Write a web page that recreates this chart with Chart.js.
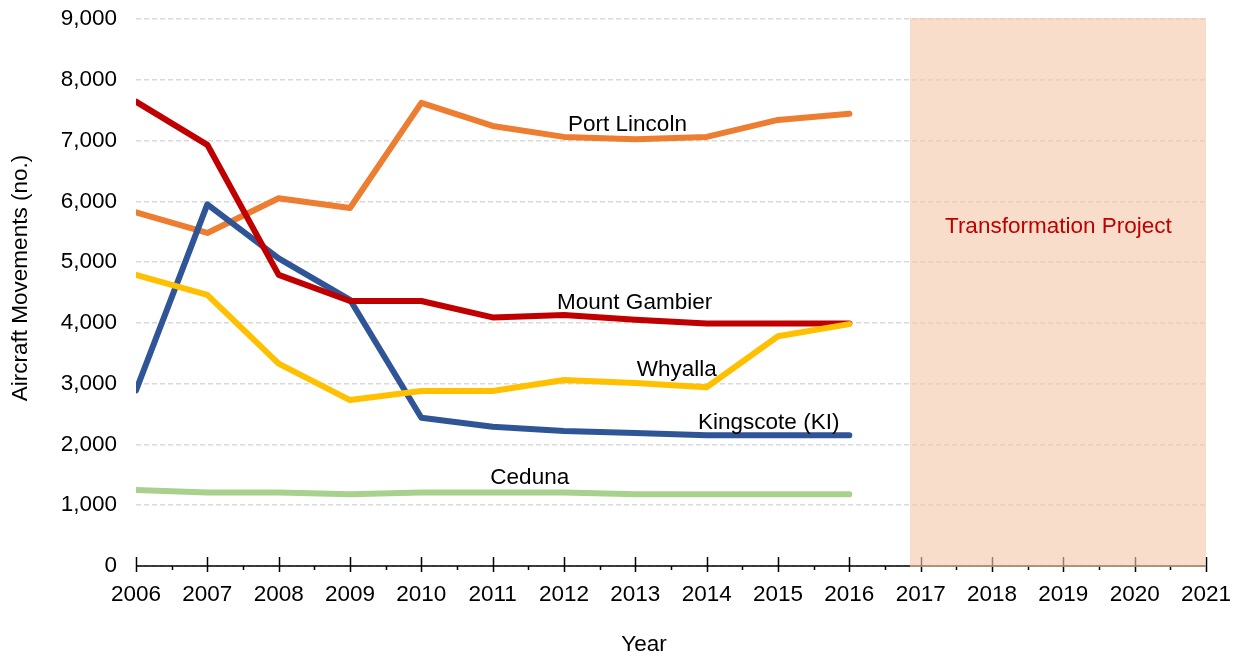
<!DOCTYPE html>
<html>
<head>
<meta charset="utf-8">
<script src="https://cdn.jsdelivr.net/npm/chart.js@4/dist/chart.umd.min.js"></script>
<style>
    html, body { margin: 0; padding: 0; background: #fff; }
    #wrap { width: 1242px; height: 661px; }
</style>
</head>
<body>
<div id="wrap"><canvas id="movements-chart"></canvas></div>
<script>
// Aircraft movements (no.) by year
const years = [2006, 2007, 2008, 2009, 2010, 2011, 2012, 2013, 2014, 2015, 2016];
const portLincoln  = [5820, 5480, 6050, 5890, 7620, 7240, 7060, 7020, 7060, 7340, 7440];
const mountGambier = [7640, 6930, 4790, 4360, 4360, 4090, 4130, 4050, 3990, 3990, 3990];
const kingscote    = [2890, 5950, 5060, 4380, 2440, 2290, 2220, 2190, 2150, 2150, 2150];
const whyalla      = [4790, 4460, 3330, 2730, 2880, 2880, 3060, 3010, 2940, 3780, 3980];
const ceduna       = [1250, 1210, 1210, 1180, 1210, 1210, 1210, 1180, 1180, 1180, 1180];

const xMin = 2006, xMax = 2021;
const yMax = 9000, yStep = 1000;
const projectStart = 2016.85;   // shaded "Transformation Project" band
const projectEnd = 2021;

const FONT = "'Liberation Sans', Arial, sans-serif";

function points(values) {
    return years.map((y, i) => ({ x: y, y: values[i] }));
}

function series(label, values, color, order) {
    return {
        label,
        data: points(values),
        borderColor: color,
        backgroundColor: color,
        borderWidth: 6,
        pointRadius: 0,
        tension: 0,
        fill: false,
        borderCapStyle: "round",
        borderJoinStyle: "round",
        order,
    };
}

// text labels sitting next to each line (in data units)
const seriesLabels = [
    { text: "Port Lincoln",   x: 2012.89, y: 7256 },
    { text: "Mount Gambier",  x: 2012.99, y: 4327 },
    { text: "Whyalla",        x: 2013.58, y: 3225 },
    { text: "Kingscote (KI)", x: 2014.87, y: 2353 },
    { text: "Ceduna",         x: 2011.52, y: 1448 },
];

const decorations = {
    id: "decorations",
    afterDatasetsDraw(chart) {
        const { ctx, chartArea, scales } = chart;
        const xs = scales.x, ys = scales.y;
        const base = ys.getPixelForValue(0);
        ctx.save();

        // x axis line + tick marks
        ctx.strokeStyle = "#000";
        ctx.lineWidth = 1.5;
        ctx.beginPath();
        ctx.moveTo(chartArea.left, base);
        ctx.lineTo(chartArea.right, base);
        for (let v = xMin; v <= xMax; v++) {
            const px = Math.round(xs.getPixelForValue(v)) + 0.5;
            ctx.moveTo(px, base - 9);
            ctx.lineTo(px, base + 6);
            if (v < xMax) {
                const mx = Math.round(xs.getPixelForValue(v + 0.5)) + 0.5;
                ctx.moveTo(mx, base);
                ctx.lineTo(mx, base + 4);
            }
        }
        ctx.stroke();

        // projection band
        const bx0 = xs.getPixelForValue(projectStart);
        const bx1 = xs.getPixelForValue(projectEnd);
        const by0 = ys.getPixelForValue(yMax) - 1;
        ctx.fillStyle = "rgba(243, 200, 170, 0.62)";
        ctx.fillRect(bx0, by0, bx1 - bx0, base + 1 - by0);

        ctx.font = "22.5px " + FONT;
        ctx.textAlign = "center";
        ctx.textBaseline = "middle";
        ctx.fillStyle = "#C00000";
        ctx.fillText("Transformation Project", xs.getPixelForValue(2018.93), ys.getPixelForValue(5578));

        ctx.fillStyle = "#000";
        seriesLabels.forEach(l => {
            ctx.fillText(l.text, xs.getPixelForValue(l.x), ys.getPixelForValue(l.y));
        });

        // axis titles
        ctx.fillText("Year", (chartArea.left + chartArea.right) / 2 - 27, 645);
        ctx.translate(21, 278);
        ctx.rotate(-Math.PI / 2);
        ctx.fillText("Aircraft Movements (no.)", 0, 0);
        ctx.restore();
    },
};

const ctx = document.getElementById("movements-chart").getContext("2d");
new Chart(ctx, {
    type: "line",
    data: {
        datasets: [
            series("Whyalla", whyalla, "#FFC000", 0),
            series("Mount Gambier", mountGambier, "#C00000", 1),
            series("Kingscote (KI)", kingscote, "#2F5597", 2),
            series("Port Lincoln", portLincoln, "#ED7D31", 3),
            series("Ceduna", ceduna, "#A9D18E", 4),
        ],
    },
    options: {
        responsive: true,
        maintainAspectRatio: false,
        animation: false,
        layout: { padding: { left: 0, right: 36, top: 19, bottom: 0 } },
        plugins: {
            legend: { display: false },
            tooltip: { enabled: false },
        },
        scales: {
            x: {
                type: "linear",
                min: xMin,
                max: xMax,
                afterFit(scale) {
                    scale.height = 95;
                    scale.paddingLeft = 0;
                    scale.paddingRight = 0;
                },
                grid: { display: false },
                border: { display: false },
                ticks: {
                    stepSize: 1,
                    padding: 7,
                    color: "#000",
                    font: { family: FONT, size: 22.5 },
                    callback: v => String(v),
                },
            },
            y: {
                min: 0,
                max: yMax,
                afterFit(scale) {
                    scale.width = 136;
                    scale.paddingTop = 0;
                    scale.paddingBottom = 0;
                },
                grid: {
                    color: "#D9D9D9",
                    lineWidth: 1.5,
                    drawTicks: false,
                },
                border: { display: false, dash: [5, 3] },
                ticks: {
                    stepSize: yStep,
                    padding: 19,
                    color: "#000",
                    font: { family: FONT, size: 22.5 },
                    callback: v => v.toLocaleString("en-US"),
                },
            },
        },
    },
    plugins: [decorations],
});
</script>
</body>
</html>
